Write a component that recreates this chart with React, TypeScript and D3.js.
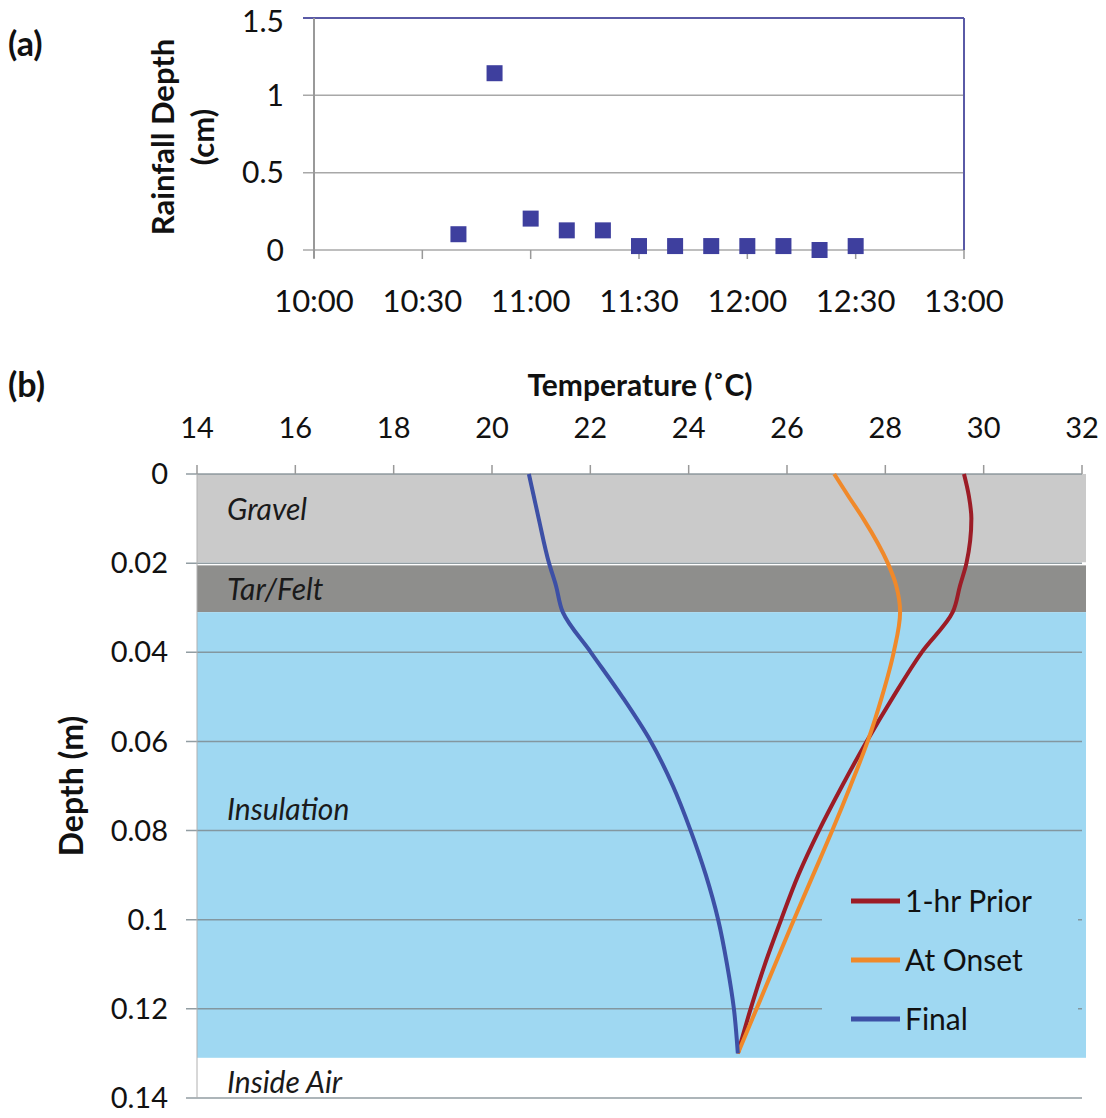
import * as d3 from "d3";

// (a) rainfall
const rainTimes = ["10:40", "10:50", "11:00", "11:10", "11:20", "11:30", "11:40", "11:50", "12:00", "12:10", "12:20", "12:30"];
const rainDepth = [0.102, 1.143, 0.203, 0.127, 0.127, 0.0254, 0.0254, 0.0254, 0.0254, 0.0254, 0, 0.0254];
const timeTicks = ["10:00", "10:30", "11:00", "11:30", "12:00", "12:30", "13:00"];
const rainTicks = [0, 0.5, 1, 1.5];

// (b) temperature profiles
const depths = [0, 0.005, 0.01, 0.02, 0.025, 0.031, 0.04, 0.05, 0.06, 0.07, 0.08, 0.09, 0.1, 0.11, 0.12, 0.13];
const prior1hr = [29.6, 29.7, 29.75, 29.65, 29.52, 29.37, 28.74, 28.16, 27.62, 27.12, 26.65, 26.23, 25.88, 25.55, 25.26, 25.0];
const atOnset = [26.96, 27.25, 27.55, 28.05, 28.22, 28.3, 28.17, 27.93, 27.64, 27.29, 26.92, 26.53, 26.14, 25.76, 25.38, 25.0];
const finalTemps = [20.75, 20.85, 20.95, 21.16, 21.3, 21.44, 22.01, 22.65, 23.23, 23.68, 24.04, 24.35, 24.6, 24.78, 24.92, 25.0];
const tempTicks = [14, 16, 18, 20, 22, 24, 26, 28, 30, 32];
const depthTicks = [0, 0.02, 0.04, 0.06, 0.08, 0.1, 0.12, 0.14];
const layerNames = ["Gravel", "Tar/Felt", "Insulation", "Inside Air"];
const layerTops = [0, 0.0205, 0.031, 0.131];
const layerBottoms = [0.0198, 0.031, 0.131, 0.14];
const layerLabelDepths = [0.0103, 0.0283, 0.0777, 0.1389];

const seriesNames = ["1-hr Prior", "At Onset", "Final"];
const seriesColors = ["#9c1c26", "#f0892a", "#3d50a6"];
const layerColors = ["#cacaca", "#8e8e8c", "#9fd8f2", "#ffffff"];

const FONT = "Lato, 'Open Sans', sans-serif";

const minutes = (t: string) => {
  const [h, m] = t.split(":").map(Number);
  return (h - 10) * 60 + m;
};

export default function App() {
  // panel a scales
  const xa = d3.scaleLinear().domain([0, 180]).range([314, 964]);
  const ya = d3.scaleLinear().domain([0, 1.5]).range([250, 18]);

  // panel b scales
  const xb = d3.scaleLinear().domain([14, 32]).range([197, 1082]);
  const yb = d3.scaleLinear().domain([0, 0.14]).range([474, 1098]);

  const line = d3
    .line<number>()
    .x((t) => xb(t))
    .y((_, i) => yb(depths[i]))
    .curve(d3.curveMonotoneY);

  const series = [prior1hr, atOnset, finalTemps];

  return (
    <div style={{ position: "absolute", left: 0, top: 0 }}>
      <svg width={1106} height={1118} style={{ display: "block", fontFamily: FONT }}>
        <rect width={1106} height={1118} fill="#fff" />

        {/* ---------- (a) ---------- */}
        <text x={8} y={56} fontSize={34} fontWeight="bold" fill="#111">(a)</text>

        {rainTicks.map((v) => (
          <g key={"ga" + v}>
            <line x1={303} x2={964} y1={ya(v)} y2={ya(v)} stroke={v === 1.5 ? "#5a5aa6" : "#a8a8a8"} strokeWidth={v === 1.5 ? 2 : 1.5} />
            <text x={284} y={ya(v) + (v === 1.5 ? 3 : 0)} dy="0.35em" textAnchor="end" fontSize={30} fill="#111">{v}</text>
          </g>
        ))}
        <line x1={964} x2={964} y1={ya(1.5)} y2={ya(0)} stroke="#5a5aa6" strokeWidth={2} />
        <line x1={314} x2={314} y1={ya(1.5)} y2={ya(0) + 8} stroke="#999" strokeWidth={2} />
        {timeTicks.map((t) => (
          <g key={"ta" + t}>
            <line x1={xa(minutes(t))} x2={xa(minutes(t))} y1={ya(0)} y2={ya(0) + 9} stroke="#999" strokeWidth={1.5} />
            <text x={xa(minutes(t))} y={312} textAnchor="middle" fontSize={31} fill="#111">{t}</text>
          </g>
        ))}
        {rainTimes.map((t, i) => (
          <rect key={"p" + t} x={xa(minutes(t)) - 8} y={ya(rainDepth[i]) - 8} width={16} height={16} fill="#3e3f9e" />
        ))}
        <text transform="translate(163,137) rotate(-90)" textAnchor="middle" dy="0.35em" fontSize={31} fontWeight="bold" fill="#111">Rainfall Depth</text>
        <text transform="translate(203,137) rotate(-90)" textAnchor="middle" dy="0.35em" fontSize={31} fontWeight="bold" fill="#111">(cm)</text>

        {/* ---------- (b) ---------- */}
        <text x={8} y={397} fontSize={34} fontWeight="bold" fill="#111">(b)</text>
        <text x={640} y={396} textAnchor="middle" fontSize={30} fontWeight="bold" fill="#111">Temperature (˚C)</text>

        {layerNames.map((n, i) => (
          <rect key={"l" + n} x={xb(14)} y={yb(layerTops[i])} width={xb(32) - xb(14) + 4} height={yb(layerBottoms[i]) - yb(layerTops[i])} fill={layerColors[i]} />
        ))}

        {depthTicks.map((d) => (
          <g key={"gb" + d}>
            <line x1={xb(14) - 11} x2={xb(32)} y1={yb(d)} y2={yb(d)} stroke="#7f8c92" strokeWidth={1.5} opacity={0.85} />
            <text x={168} y={yb(d)} dy="0.35em" textAnchor="end" fontSize={29} fill="#111">{d}</text>
          </g>
        ))}
        <line x1={xb(14)} x2={xb(14)} y1={yb(0)} y2={yb(0.14)} stroke="#b0b0b0" strokeWidth={1} />
        {tempTicks.map((t) => (
          <g key={"tb" + t}>
            <line x1={xb(t)} x2={xb(t)} y1={yb(0) - 9} y2={yb(0)} stroke="#999" strokeWidth={1.5} />
            <text x={xb(t)} y={438} textAnchor="middle" fontSize={29} fill="#111">{t}</text>
          </g>
        ))}

        {layerNames.map((n, i) => (
          <text key={"lt" + n} x={xb(14) + 30} y={yb(layerLabelDepths[i])} fontSize={30} fontStyle="italic" fill="#1a1a1a">{n}</text>
        ))}

        <text transform="translate(72,786) rotate(-90)" textAnchor="middle" dy="0.35em" fontSize={32} fontWeight="bold" fill="#111">Depth (m)</text>

        {series.map((s, i) => (
          <path key={"s" + i} d={line(s) ?? ""} fill="none" stroke={seriesColors[i]} strokeWidth={4} strokeLinejoin="round" />
        ))}

        {/* legend */}
        <rect x={822} y={878} width={256} height={168} fill={layerColors[2]} />
        {seriesNames.map((n, i) => (
          <g key={"lg" + n} transform={`translate(851,${901 + i * 59})`}>
            <line x1={0} x2={49} y1={0} y2={0} stroke={seriesColors[i]} strokeWidth={5} />
            <text x={54} y={0} dy="0.36em" fontSize={30} fill="#111">{n}</text>
          </g>
        ))}
      </svg>
    </div>
  );
}
